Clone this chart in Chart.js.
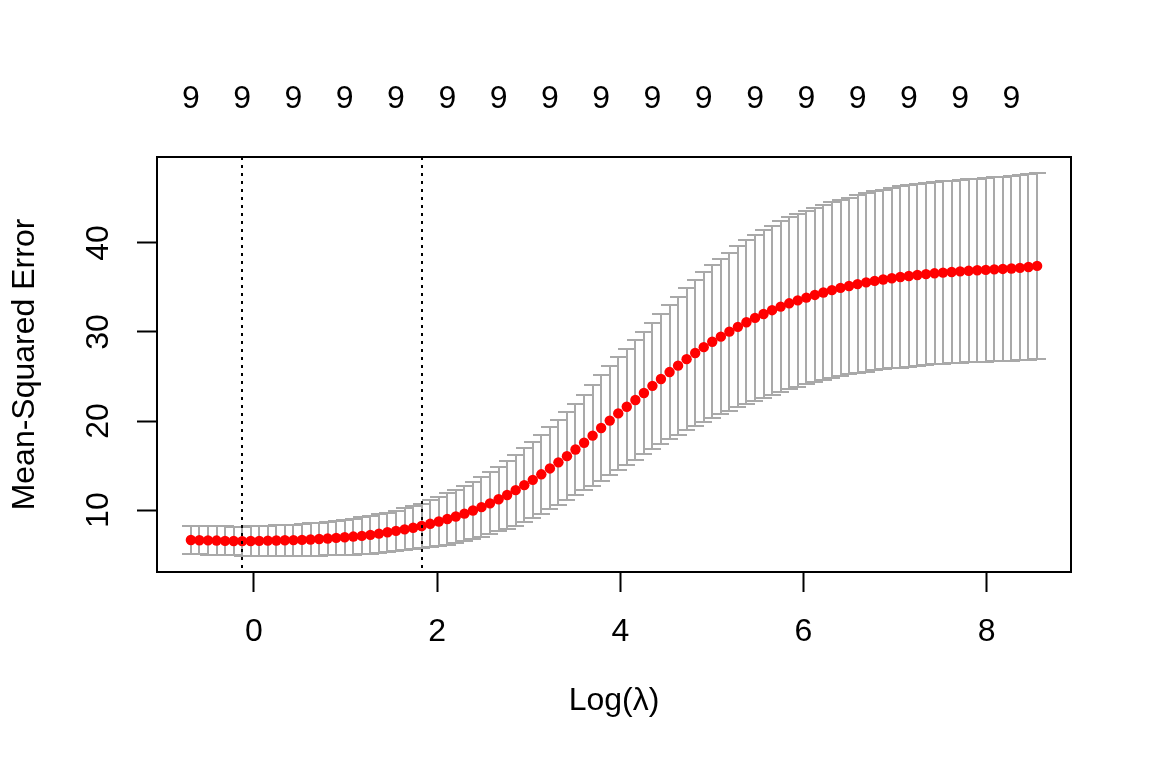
<!DOCTYPE html>
<html>
<head>
<meta charset="utf-8">
<script src="https://cdn.jsdelivr.net/npm/chart.js@4.4.1/dist/chart.umd.min.js"></script>
<style>
  html, body { margin: 0; padding: 0; background: #fff; }
</style>
</head>
<body>
<canvas id="cv" width="1152" height="768"></canvas>
<script>
// --- data ---
const logLambda = [
  -0.687, -0.594, -0.500, -0.407, -0.314, -0.220, -0.127, -0.034, 0.059, 0.153,
  0.246, 0.339, 0.433, 0.526, 0.619, 0.713, 0.806, 0.899, 0.992, 1.086,
  1.179, 1.272, 1.366, 1.459, 1.552, 1.646, 1.739, 1.832, 1.925, 2.019,
  2.112, 2.205, 2.299, 2.392, 2.485, 2.578, 2.672, 2.765, 2.858, 2.952,
  3.045, 3.138, 3.232, 3.325, 3.418, 3.511, 3.605, 3.698, 3.791, 3.885,
  3.978, 4.071, 4.165, 4.258, 4.351, 4.444, 4.538, 4.631, 4.724, 4.818,
  4.911, 5.004, 5.098, 5.191, 5.284, 5.377, 5.471, 5.564, 5.657, 5.751,
  5.844, 5.937, 6.031, 6.124, 6.217, 6.310, 6.404, 6.497, 6.590, 6.684,
  6.777, 6.870, 6.964, 7.057, 7.150, 7.243, 7.337, 7.430, 7.523, 7.617,
  7.710, 7.803, 7.897, 7.990, 8.083, 8.176, 8.270, 8.363, 8.456, 8.550
];
const cvMean = [
  6.64, 6.62, 6.60, 6.58, 6.55, 6.53, 6.52, 6.53, 6.55, 6.57,
  6.59, 6.61, 6.63, 6.66, 6.70, 6.75, 6.81, 6.88, 6.95, 7.03,
  7.11, 7.22, 7.36, 7.51, 7.67, 7.84, 8.02, 8.22, 8.46, 8.72,
  9.00, 9.28, 9.60, 9.95, 10.33, 10.76, 11.22, 11.70, 12.24, 12.80,
  13.40, 14.02, 14.68, 15.36, 16.06, 16.80, 17.56, 18.36, 19.22, 20.05,
  20.86, 21.61, 22.36, 23.15, 23.95, 24.72, 25.50, 26.22, 26.95, 27.64,
  28.30, 28.91, 29.48, 30.04, 30.58, 31.10, 31.58, 32.02, 32.45, 32.85,
  33.22, 33.55, 33.86, 34.16, 34.44, 34.70, 34.95, 35.17, 35.38, 35.57,
  35.74, 35.90, 36.04, 36.17, 36.29, 36.40, 36.50, 36.59, 36.67, 36.74,
  36.81, 36.87, 36.93, 36.98, 37.03, 37.08, 37.13, 37.20, 37.30, 37.42
];
const cvSd = [
  1.57, 1.58, 1.59, 1.60, 1.61, 1.62, 1.63, 1.64, 1.66, 1.68,
  1.70, 1.72, 1.75, 1.78, 1.81, 1.85, 1.90, 1.94, 1.98, 2.02,
  2.06, 2.10, 2.15, 2.21, 2.28, 2.35, 2.43, 2.52, 2.63, 2.75,
  2.88, 3.00, 3.12, 3.24, 3.36, 3.48, 3.60, 3.80, 4.00, 4.16,
  4.30, 4.45, 4.60, 4.76, 4.93, 5.10, 5.35, 5.65, 5.95, 6.14,
  6.32, 6.50, 6.69, 6.88, 7.08, 7.30, 7.52, 7.74, 7.96, 8.20,
  8.43, 8.58, 8.73, 8.88, 9.03, 9.18, 9.33, 9.42, 9.50, 9.58,
  9.65, 9.69, 9.73, 9.77, 9.81, 9.85, 9.89, 9.92, 9.97, 10.01,
  10.05, 10.09, 10.13, 10.17, 10.19, 10.21, 10.22, 10.23, 10.24, 10.25,
  10.26, 10.28, 10.30, 10.32, 10.34, 10.36, 10.38, 10.40, 10.42, 10.45
];
const xTicks = [0, 2, 4, 6, 8];
const yTicks = [10, 20, 30, 40];
// number of nonzero coefs, printed along the top
const topTickAt = [-0.687, -0.127, 0.433, 0.992, 1.552, 2.112, 2.672, 3.232, 3.791,
                   4.351, 4.911, 5.471, 6.031, 6.590, 7.150, 7.710, 8.270];
const topLabels = ['9', '9', '9', '9', '9', '9', '9', '9', '9',
                   '9', '9', '9', '9', '9', '9', '9', '9'];
const lambdaMinLog = -0.127;
const lambda1seLog = 1.832;

// --- styles ---
const FONT = "'Liberation Sans', Arial, sans-serif";
const FS = 32;
const X_MIN = -1.057, X_MAX = 8.92;
const Y_MIN = 3.05, Y_MAX = 49.65;
const CAP_HALF = 0.0924; // error.bars width = 0.01 * range(x)

const cvExtras = {
  id: 'cvExtras',
  beforeDatasetsDraw(chart) {
    const { ctx, scales: { x, y } } = chart;
    ctx.save();
    ctx.strokeStyle = '#A9A9A9';
    ctx.lineWidth = 2;
    ctx.beginPath();
    logLambda.forEach((v, i) => {
      const px = Math.round(x.getPixelForValue(v));
      const pl = Math.round(x.getPixelForValue(v - CAP_HALF));
      const pr = Math.round(x.getPixelForValue(v + CAP_HALF));
      const up = Math.round(y.getPixelForValue(cvMean[i] + cvSd[i]));
      const lo = Math.round(y.getPixelForValue(cvMean[i] - cvSd[i]));
      ctx.moveTo(px, up); ctx.lineTo(px, lo);
      ctx.moveTo(pl, up); ctx.lineTo(pr, up);
      ctx.moveTo(pl, lo); ctx.lineTo(pr, lo);
    });
    ctx.stroke();
    ctx.restore();
  },
  afterDatasetsDraw(chart) {
    const { ctx, chartArea: a, scales: { x } } = chart;
    ctx.save();
    ctx.strokeStyle = '#000';
    ctx.lineWidth = 2;
    ctx.setLineDash([3, 5]);
    [lambdaMinLog, lambda1seLog].forEach(v => {
      const px = Math.round(x.getPixelForValue(v));
      ctx.beginPath();
      ctx.moveTo(px, a.top); ctx.lineTo(px, a.bottom);
      ctx.stroke();
    });
    ctx.setLineDash([]);
    ctx.strokeRect(Math.round(a.left), Math.round(a.top),
                   Math.round(a.right - a.left), Math.round(a.bottom - a.top));
    ctx.restore();
  }
};

new Chart(document.getElementById('cv'), {
  type: 'scatter',
  data: {
    datasets: [{
      data: logLambda.map((v, i) => ({ x: v, y: cvMean[i] })),
      pointRadius: 5.2,
      pointBackgroundColor: '#FF0000',
      pointBorderWidth: 0,
      showLine: false
    }]
  },
  options: {
    responsive: false,
    animation: false,
    devicePixelRatio: 1,
    layout: { padding: { right: 81 } },
    plugins: { legend: { display: false }, tooltip: { enabled: false } },
    scales: {
      x: {
        type: 'linear', position: 'bottom', min: X_MIN, max: X_MAX,
        afterBuildTicks: s => { s.ticks = xTicks.map(v => ({ value: v })); },
        afterFit: s => { s.height = 196; },
        grid: { drawOnChartArea: false, tickLength: 20, tickWidth: 2, tickColor: '#000' },
        border: { display: false },
        ticks: { color: '#000', font: { family: FONT, size: FS }, padding: 21,
                 maxRotation: 0, autoSkip: false, callback: v => String(v) },
        title: { display: true, text: 'Log(λ)', color: '#000',
                 font: { family: FONT, size: FS }, padding: { top: 0, bottom: 48 } }
      },
      x2: {
        type: 'linear', position: 'top', min: X_MIN, max: X_MAX,
        afterBuildTicks: s => { s.ticks = topTickAt.map(v => ({ value: v })); },
        afterFit: s => { s.height = 157; },
        grid: { display: false, drawTicks: false },
        border: { display: false },
        ticks: { color: '#000', font: { family: FONT, size: FS }, padding: 39,
                 maxRotation: 0, autoSkip: false, callback: (v, i) => topLabels[i] }
      },
      y: {
        type: 'linear', position: 'left', min: Y_MIN, max: Y_MAX,
        afterBuildTicks: s => { s.ticks = yTicks.map(v => ({ value: v })); },
        afterFit: s => { s.width = 157; },
        grid: { drawOnChartArea: false, tickLength: 20, tickWidth: 2, tickColor: '#000' },
        border: { display: false },
        ticks: { color: '#000', font: { family: FONT, size: FS }, padding: 20,
                 minRotation: 90, maxRotation: 90, crossAlign: 'center', autoSkip: false },
        title: { display: true, text: 'Mean-Squared Error', color: '#000',
                 font: { family: FONT, size: FS }, padding: { top: 6, bottom: 0 } }
      }
    }
  },
  plugins: [cvExtras]
});
</script>
</body>
</html>
